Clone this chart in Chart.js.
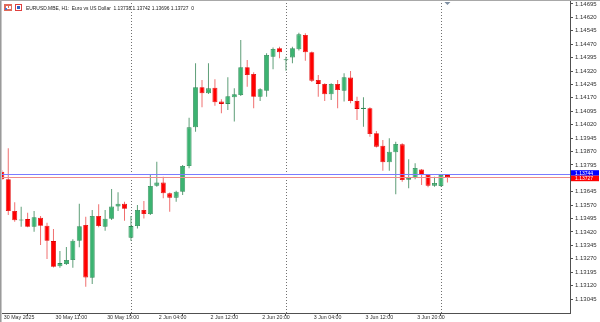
<!DOCTYPE html>
<html><head><meta charset="utf-8">
<script src="https://cdn.jsdelivr.net/npm/chart.js@4.4.1/dist/chart.umd.min.js"></script>
<style>html,body{margin:0;padding:0;background:#fff;overflow:hidden}canvas{display:block}</style>
</head><body>
<canvas id="c" width="600" height="322" style="width:600px;height:322px"></canvas>
<script>
const categories = [
 "30 May 03:00","30 May 04:00","30 May 05:00","30 May 06:00","30 May 07:00","30 May 08:00","30 May 09:00","30 May 10:00",
 "30 May 11:00","30 May 12:00","30 May 13:00","30 May 14:00","30 May 15:00","30 May 16:00","30 May 17:00","30 May 18:00",
 "30 May 19:00","30 May 20:00","30 May 21:00","30 May 22:00",
 "2 Jun 00:00","2 Jun 01:00","2 Jun 02:00","2 Jun 03:00","2 Jun 04:00","2 Jun 05:00","2 Jun 06:00","2 Jun 07:00",
 "2 Jun 08:00","2 Jun 09:00","2 Jun 10:00","2 Jun 11:00","2 Jun 12:00","2 Jun 13:00","2 Jun 14:00","2 Jun 15:00",
 "2 Jun 16:00","2 Jun 17:00","2 Jun 18:00","2 Jun 19:00","2 Jun 20:00","2 Jun 21:00","2 Jun 22:00","2 Jun 23:00",
 "3 Jun 00:00","3 Jun 01:00","3 Jun 02:00","3 Jun 03:00","3 Jun 04:00","3 Jun 05:00","3 Jun 06:00","3 Jun 07:00",
 "3 Jun 08:00","3 Jun 09:00","3 Jun 10:00","3 Jun 11:00","3 Jun 12:00","3 Jun 13:00","3 Jun 14:00","3 Jun 15:00",
 "3 Jun 16:00","3 Jun 17:00","3 Jun 18:00","3 Jun 19:00","3 Jun 20:00","3 Jun 21:00","3 Jun 22:00","3 Jun 23:00",
 "4 Jun 00:00","4 Jun 01:00"
];
const openP = [
 1.13757,1.13715,1.13537,1.13484,1.13492,1.13449,1.13500,1.13455,1.13369,1.13228,
 1.13241,1.13263,1.13371,1.13459,1.13164,1.13509,1.13449,1.13494,1.13563,1.13578,
 1.13388,1.13453,1.13543,1.13520,1.13679,1.13696,1.13636,1.13612,1.13645,1.13789,
 1.14005,1.14229,1.14195,1.14227,1.14149,1.14136,1.14173,1.14186,1.14341,1.14303,
 1.14176,1.14210,1.14400,1.14447,1.14380,1.14395,1.14442,1.14522,1.14425,1.14270,
 1.14248,1.14190,1.14248,1.14210,1.14283,1.14152,1.14108,1.14112,1.13972,1.13902,
 1.13810,1.13866,1.13910,1.13712,1.13722,1.13770,1.13739,1.13679,1.13677,1.13738
];
const highP = [
 1.13766,1.13888,1.13586,1.13561,1.13528,1.13537,1.13509,1.13472,1.13437,1.13313,
 1.13336,1.13379,1.13578,1.13505,1.13543,1.13575,1.13543,1.13660,1.13642,1.13589,
 1.13509,1.13571,1.13593,1.13739,1.13813,1.13729,1.13641,1.13651,1.13795,1.14059,
 1.14363,1.14270,1.14363,1.14274,1.14162,1.14285,1.14223,1.14494,1.14382,1.14313,
 1.14223,1.14419,1.14451,1.14456,1.14400,1.14456,1.14534,1.14531,1.14429,1.14298,
 1.14251,1.14251,1.14270,1.14307,1.14320,1.14176,1.14173,1.14117,1.13985,1.13934,
 1.13944,1.13925,1.13916,1.13826,1.13804,1.13772,1.13744,1.13729,1.13742,1.13742
];
const lowP = [
 1.13711,1.13515,1.13477,1.13449,1.13446,1.13421,1.13347,1.13269,1.13222,1.13220,
 1.13235,1.13220,1.13334,1.13114,1.13129,1.13446,1.13427,1.13487,1.13537,1.13483,
 1.13371,1.13440,1.13496,1.13515,1.13673,1.13608,1.13533,1.13589,1.13627,1.13776,
 1.13981,1.14117,1.14192,1.14126,1.14084,1.14102,1.14037,1.14180,1.14232,1.14112,
 1.14152,1.14176,1.14330,1.14391,1.14322,1.14363,1.14434,1.14378,1.14259,1.14176,
 1.14152,1.14158,1.14112,1.14149,1.14140,1.14046,1.14009,1.13953,1.13893,1.13763,
 1.13763,1.13631,1.13701,1.13664,1.13715,1.13683,1.13670,1.13673,1.13673,1.13696
];
const closeP = [
 1.13715,1.13537,1.13485,1.13487,1.13449,1.13502,1.13455,1.13371,1.13226,1.13246,
 1.13263,1.13371,1.13452,1.13166,1.13509,1.13453,1.13494,1.13563,1.13578,1.13550,
 1.13453,1.13543,1.13520,1.13677,1.13696,1.13636,1.13612,1.13645,1.13789,1.14005,
 1.14229,1.14195,1.14223,1.14145,1.14136,1.14179,1.14190,1.14341,1.14298,1.14176,
 1.14218,1.14410,1.14443,1.14425,1.14382,1.14447,1.14525,1.14425,1.14266,1.14248,
 1.14190,1.14248,1.14214,1.14285,1.14152,1.14108,1.14115,1.13968,1.13897,1.13810,
 1.13869,1.13912,1.13711,1.13722,1.13778,1.13739,1.13679,1.13694,1.13739,1.13727
];
const xTickIndex = [0,8,16,24,32,40,48,56,64];
const xTickLabels = ["30 May 2025","30 May 11:00","30 May 19:00","2 Jun 04:00","2 Jun 12:00","2 Jun 20:00","3 Jun 04:00","3 Jun 12:00","3 Jun 20:00"];
const yTickValues = [1.13045,1.13120,1.13195,1.13270,1.13345,1.13420,1.13495,1.13570,1.13645,
 1.13795,1.13870,1.13945,1.14020,1.14095,1.14170,1.14245,1.14320,1.14395,1.14470,1.14545,1.14620,1.14695];
const separatorIndex = [20,44,68];
const askPrice = 1.13744;
const bidPrice = 1.13727;
const headerText = "EURUSD.MBE, H1:  Euro vs US Dollar  1.13738 1.13742 1.13696 1.13727  0";

const FONT = "'Liberation Sans', Arial, sans-serif";
const UP_FILL = '#3CB371', UP_EDGE = '#2E8B57', UP_WICK = '#5E9E78';
const DN_FILL = '#FF0000', DN_EDGE = '#E00000', DN_WICK = '#F07070';
const isUp = openP.map((o,i)=> closeP[i] >= o);

const bodyData = categories.map((c,i)=>({x:i, y:[openP[i], closeP[i]]}));
const wickData = categories.map((c,i)=>({x:i, y:[lowP[i], highP[i]]}));

const decor = {
  id:'decor',
  beforeDatasetsDraw(chart){
    const {ctx, chartArea:a, scales:{x}} = chart;
    ctx.save();
    ctx.strokeStyle = '#707070'; ctx.lineWidth = 1; ctx.setLineDash([1,2]);
    separatorIndex.forEach(i=>{
      const px = Math.round(x.getPixelForValue(i)) + 0.5;
      ctx.beginPath(); ctx.moveTo(px, a.top); ctx.lineTo(px, a.bottom); ctx.stroke();
    });
    ctx.restore();
  },
  afterDraw(chart){
    const {ctx, chartArea:a, scales:{x,y}} = chart;
    ctx.save();
    // price lines
    const ay = Math.round(y.getPixelForValue(askPrice)) + 0.5;
    const by = Math.round(y.getPixelForValue(bidPrice)) + 0.5;
    ctx.lineWidth = 1;
    ctx.strokeStyle = '#7C7CFF'; ctx.beginPath(); ctx.moveTo(a.left, ay); ctx.lineTo(a.right, ay); ctx.stroke();
    ctx.strokeStyle = '#F08A8A'; ctx.beginPath(); ctx.moveTo(a.left, by); ctx.lineTo(a.right, by); ctx.stroke();
    // price boxes
    const bx = a.right + 1, bw = 28, bh = 5.5;
    const top1 = ay - 4.3;
    ctx.fillStyle = '#0000FF'; ctx.fillRect(bx, top1, bw, bh);
    ctx.fillStyle = '#FF0000'; ctx.fillRect(bx, top1 + bh, bw, bh);
    ctx.fillStyle = '#FFFFFF'; ctx.font = '5px ' + FONT; ctx.textBaseline = 'middle'; ctx.textAlign = 'left';
    ctx.fillText(askPrice.toFixed(5), bx + 4, top1 + bh/2 + 0.3, 22);
    ctx.fillText(bidPrice.toFixed(5), bx + 4, top1 + bh*1.5 + 0.3, 22);
    // borders
    ctx.fillStyle = '#9A9A9A'; ctx.fillRect(0, 0, 1, 322);
    ctx.fillStyle = '#C8C8C8'; ctx.fillRect(1, 0, 1, 322);
    ctx.fillStyle = '#A8A8A8'; ctx.fillRect(0, 0, 600, 1);
    // shift marker
    const mx = x.getPixelForValue(categories.length - 1);
    ctx.fillStyle = '#7D8DA0';
    ctx.beginPath(); ctx.moveTo(mx - 3, 2); ctx.lineTo(mx + 3, 2); ctx.lineTo(mx, 5); ctx.closePath(); ctx.fill();
    // header icons
    ctx.fillStyle = '#E06A5A'; ctx.fillRect(4, 4, 8, 7);
    ctx.fillStyle = '#FFFFFF'; ctx.fillRect(6, 6, 2, 2); ctx.fillRect(9, 6, 2, 2); ctx.fillRect(6, 8, 5, 1);
    ctx.fillStyle = '#4A7AD0'; ctx.fillRect(5, 8, 2, 2);
    ctx.strokeStyle = '#E04040'; ctx.lineWidth = 1; ctx.strokeRect(15.5, 4.5, 6, 6);
    ctx.fillStyle = '#3060C0'; ctx.fillRect(17, 6, 3, 3);
    // header text
    ctx.fillStyle = '#202020'; ctx.font = '6px ' + FONT; ctx.textBaseline = 'middle';
    ctx.fillText(headerText, 26, 8, 168);
    ctx.restore();
  }
};

new Chart(document.getElementById('c'), {
  type:'bar',
  data:{ datasets:[
    { data: bodyData, grouped:false, barThickness:5, inflateAmount:0, minBarLength:1,
      backgroundColor: isUp.map(u=>u?UP_FILL:DN_FILL), borderColor: isUp.map(u=>u?UP_EDGE:DN_EDGE),
      borderWidth:0.8, borderSkipped:false },
    { data: wickData, grouped:false, barThickness:1, inflateAmount:0,
      backgroundColor: isUp.map(u=>u?UP_WICK:DN_WICK), borderWidth:0 }
  ]},
  options:{
    responsive:false, animation:false, devicePixelRatio:1,
    layout:{padding:0},
    plugins:{legend:{display:false}, tooltip:{enabled:false}, title:{display:false}},
    scales:{
      x:{ type:'linear', min:-0.2787, max:87.98, offset:false,
        grid:{drawOnChartArea:false, drawTicks:true, tickLength:3, color:'#505050'},
        border:{display:true, color:'#505050'},
        ticks:{ align:'start', labelOffset:2, padding:-2, autoSkip:false, maxRotation:0, color:'#303030',
          font:{size:5.3, family:FONT},
          callback:(v,i)=> xTickLabels[i] },
        afterBuildTicks:s=>{ s.ticks = xTickIndex.map(v=>({value:v})); },
        afterFit:s=>{ s.height = 9; s.paddingLeft = 0; s.paddingRight = 0; }
      },
      y:{ type:'linear', position:'right', min:1.12967, max:1.14717,
        grid:{drawOnChartArea:false, drawTicks:true, tickLength:3, color:'#505050'},
        border:{display:true, color:'#505050'},
        ticks:{ padding:2, color:'#303030', font:{size:6, family:FONT}, autoSkip:false,
          callback:(v)=> Number(v).toFixed(5) },
        afterBuildTicks:s=>{ s.ticks = yTickValues.map(v=>({value:v})); },
        afterFit:s=>{ s.width = 30; s.paddingTop = 0; s.paddingBottom = 0; }
      }
    }
  },
  plugins:[decor]
});
</script>
</body></html>
